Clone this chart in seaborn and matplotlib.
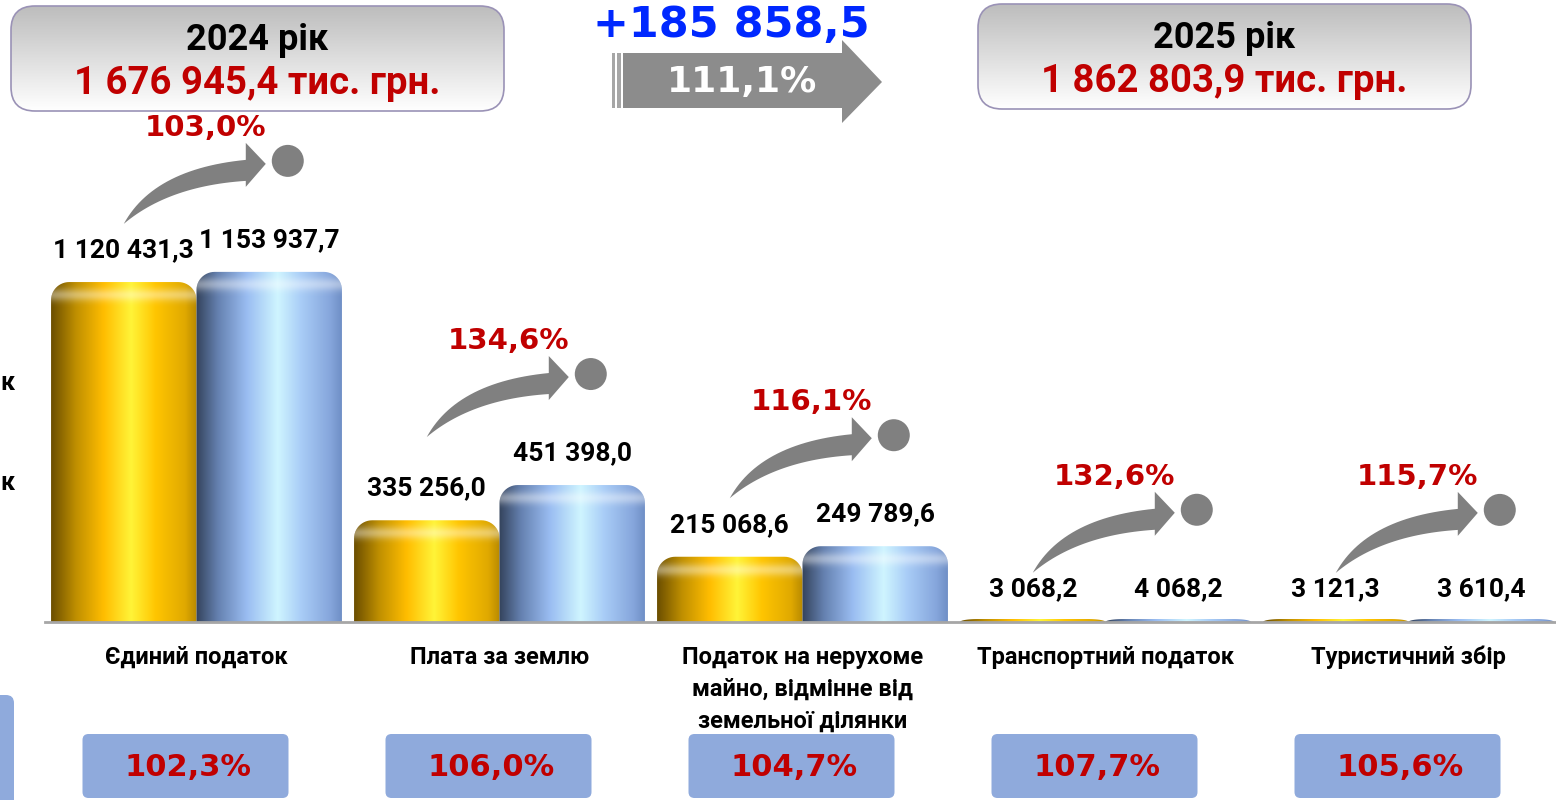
import numpy as np
import pandas as pd
import matplotlib
matplotlib.use('Agg')
import matplotlib.pyplot as plt
from matplotlib.colors import LinearSegmentedColormap, to_rgb
from matplotlib.patches import FancyBboxPatch, PathPatch, Polygon, Circle, Rectangle
from matplotlib.path import Path
import seaborn as sns

W, H = 1556, 800

# --- data -------------------------------------------------------------
categories = ['Єдиний податок', 'Плата за землю',
              'Податок на нерухоме\nмайно, відмінне від\nземельної ділянки',
              'Транспортний податок', 'Туристичний збір']
years = ['2024', '2025']
values_2024 = [1120431.3, 335256.0, 215068.6, 3068.2, 3121.3]
values_2025 = [1153937.7, 451398.0, 249789.6, 4068.2, 3610.4]
growth_pct = [103.0, 134.6, 116.1, 132.6, 115.7]
plan_pct = [102.3, 106.0, 104.7, 107.7, 105.6]
total_2024 = 1676945.4
total_2025 = 1862803.9

RED = '#c00000'
GRAY = '#808080'
BOX_BLUE = '#8faadc'
BOLD_WIDE = 'DejaVu Sans'

sns.set_style('white')
plt.rcParams['font.family'] = ['Roboto', 'DejaVu Sans']
plt.rcParams['text.color'] = 'black'
plt.rcParams['xtick.color'] = 'black'


def fmt(v, dec=1):
    return f'{v:,.{dec}f}'.replace(',', ' ').replace('.', ',')


def rounded_top(x0, w, h, rx, ry):
    ry = min(ry, h)
    t = np.linspace(0, np.pi / 2, 14)
    x1 = x0 + w
    left = np.column_stack([x0 + rx - rx * np.cos(t), h - ry + ry * np.sin(t)])
    right = np.column_stack([x1 - rx + rx * np.sin(t), h - ry + ry * np.cos(t)])
    verts = np.vstack([[[x0, 0]], left, right, [[x1, 0], [x0, 0]]])
    return Path(verts, closed=True)


gold_cmap = LinearSegmentedColormap.from_list('gold', [
    (0, '#6b4e00'), (0.17, '#bf8f00'), (0.36, '#ffbd00'), (0.55, '#fff438'),
    (0.72, '#ffc500'), (0.92, '#e0a900'), (1, '#b88a00')])
blue_cmap = LinearSegmentedColormap.from_list('blue', [
    (0, '#34435c'), (0.15, '#6581b0'), (0.35, '#9abdf2'), (0.56, '#cff5ff'),
    (0.72, '#a9cdf7'), (0.92, '#86a6dc'), (1, '#6f8fc6')])

df = pd.DataFrame({
    'category': categories * 2,
    'year': [years[0]] * len(categories) + [years[1]] * len(categories),
    'value': values_2024 + values_2025,
})

fig = plt.figure(figsize=(W / 100, H / 100), dpi=100)
ax = fig.add_axes([45 / W, 178 / H, 1515 / W, 622 / H])
sns.barplot(data=df, x='category', y='value', hue='year', hue_order=years,
            palette=['#ffc000', '#9dc3e6'], width=0.96, errorbar=None,
            legend=False, ax=ax)

ymax = 2.05e6
px_y = ymax / 622
for container, cmap in zip(ax.containers, [gold_cmap, blue_cmap]):
    grad = cmap(np.linspace(0, 1, 256))[None, :, :3]
    for bar in container:
        x0, w, h = bar.get_x(), bar.get_width(), bar.get_height()
        bar.set_visible(False)
        # very small bars still get a thin visible sliver, as in the slide
        hv = max(h, 3 * px_y)
        clip = PathPatch(rounded_top(x0, w, hv, 0.06, 18 * px_y),
                         fc='none', ec='none', transform=ax.transData)
        ax.add_patch(clip)
        im = ax.imshow(grad, extent=[x0, x0 + w, 0, hv], aspect='auto',
                       interpolation='bicubic', zorder=2)
        im.set_clip_path(clip)
        if h > 40 * px_y:
            s = np.linspace(0, 1, 64)
            shine = np.ones((64, 1, 4))
            shine[:, 0, 3] = 0.4 * np.exp(-((s - 0.4) / 0.2) ** 2)
            hi = ax.imshow(shine, extent=[x0, x0 + w, h - 32 * px_y, h],
                           aspect='auto', zorder=3)
            hi.set_clip_path(clip)
        ax.annotate(fmt(h), (x0 + w / 2, h), xytext=(0, 23),
                    textcoords='offset points', ha='center', va='center',
                    fontsize=19, fontweight='bold', color='black')

ax.set_xlim(-0.5, 4.5)
ax.set_ylim(0, ymax)
ax.set_xlabel('')
ax.set_ylabel('')
ax.set_yticks([])
for side in ['top', 'left', 'right']:
    ax.spines[side].set_visible(False)
ax.spines['bottom'].set_color('#a6a6a6')
ax.spines['bottom'].set_linewidth(2)
ax.spines['bottom'].set_zorder(5)
ax.tick_params(axis='x', length=0, pad=17, labelsize=17)
for lbl in ax.get_xticklabels():
    lbl.set_fontweight('bold')
    lbl.set_linespacing(1.5)

# --- overlay in pixel coordinates (y down) ----------------------------
ov = fig.add_axes([0, 0, 1, 1])
ov.set_xlim(0, W)
ov.set_ylim(H, 0)
ov.axis('off')


def to_px(x, y):
    dx, dy = ax.transData.transform((x, y))
    return dx, H - dy


# curved growth arrows
tt = np.linspace(0, 1, 30)[:, None]


def bez(p0, p1, p2):
    p0, p1, p2 = map(np.array, (p0, p1, p2))
    return (1 - tt) ** 2 * p0 + 2 * (1 - tt) * tt * p1 + tt ** 2 * p2


upper = bez((0, 0), (30, -55), (122, -64))
lower = bez((0, 0), (45, -38), (122, -43))
head = np.array([[122, -81], [142, -60], [122, -37]])
arrow_shape = np.vstack([upper, head, lower[::-1]])

for i in range(len(categories)):
    gold = ax.containers[0][i]
    blue = ax.containers[1][i]
    top = max(gold.get_height(), blue.get_height())
    sx, sy = to_px(gold.get_x() + gold.get_width() / 2, top)
    sy -= 48
    ov.add_patch(Polygon(arrow_shape + [sx, sy], closed=True, fc=GRAY, ec='none'))
    ov.add_patch(Circle((sx + 164, sy - 63), 16, fc=GRAY, ec='none'))
    ov.text(sx + 82, sy - 96, fmt(growth_pct[i]) + '%', ha='center', va='center',
            fontsize=21, fontweight='bold', color=RED, family=BOLD_WIDE)

    cx, _ = to_px(i, 0)
    ov.add_patch(FancyBboxPatch((cx - 114, 734), 206, 64,
                                boxstyle='round,pad=0,rounding_size=6',
                                fc=BOX_BLUE, ec='none'))
    ov.text(cx - 8, 767, fmt(plan_pct[i]) + '%', ha='center', va='center',
            fontsize=22, fontweight='bold', color=RED, family=BOLD_WIDE)

# cropped pieces on the left edge
ov.add_patch(FancyBboxPatch((-40, 695), 54, 140, boxstyle='round,pad=0,rounding_size=8',
                            fc=BOX_BLUE, ec='none'))
for y in [383, 483]:
    ov.text(0, y, 'к', ha='left', va='center', fontsize=18, fontweight='bold')

# year total boxes
vgrad = np.array([to_rgb('#bdbdbd'), to_rgb('#ffffff')])
vgrad = np.linspace(vgrad[0], vgrad[1], 64)[:, None, :]
for (x0, y0), year, total in zip([(11, 6), (978, 4)], years, [total_2024, total_2025]):
    box = FancyBboxPatch((x0, y0), 493, 105, boxstyle='round,pad=0,rounding_size=24',
                         fc='none', ec='#9a92b6', lw=1.2, zorder=3)
    ov.add_patch(box)
    g = ov.imshow(vgrad, extent=(x0, x0 + 493, y0 + 105, y0), aspect='auto',
                  origin='upper', zorder=2)
    g.set_clip_path(box)
    ov.text(x0 + 246, y0 + 34, f'{year} рік', ha='center', va='center',
            fontsize=26, fontweight='bold', color='black', zorder=4)
    ov.text(x0 + 246, y0 + 78, f'{fmt(total)} тис. грн.', ha='center', va='center',
            fontsize=27.5, fontweight='bold', color=RED, zorder=4)

# central change arrow
ov.add_patch(Polygon([[623, 53], [842, 53], [842, 40], [882, 82], [842, 123],
                      [842, 108], [623, 108]], closed=True, fc='#8c8c8c', ec='none'))
ov.add_patch(Rectangle((612, 53), 3, 55, fc='#a6a6a6', ec='none'))
ov.add_patch(Rectangle((617, 53), 4.5, 55, fc='#a6a6a6', ec='none'))
ov.text(742, 82, fmt(total_2025 / total_2024 * 100) + '%', ha='center', va='center',
        fontsize=26, fontweight='bold', color='white', family=BOLD_WIDE)
ov.text(731, 25, '+' + fmt(total_2025 - total_2024), ha='center', va='center',
        fontsize=31, fontweight='bold', color='#0028ff', family=BOLD_WIDE)

ov.set_xlim(0, W)
ov.set_ylim(H, 0)

fig.savefig('out.png', dpi=100)
